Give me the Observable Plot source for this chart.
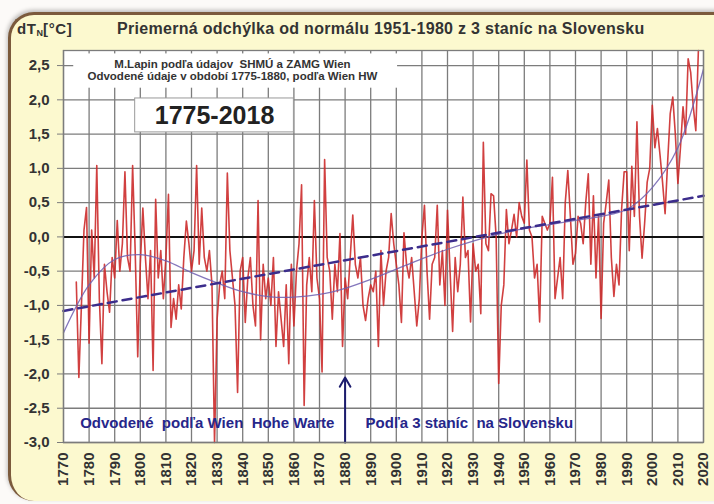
<!DOCTYPE html>
<html>
<head>
<meta charset="utf-8">
<script src="https://cdn.jsdelivr.net/npm/d3@7"></script>
<script src="https://cdn.jsdelivr.net/npm/@observablehq/plot@0.6"></script>
<style>
  html, body { margin: 0; padding: 0; background: #fcfaf8; }
  #wrap { position: relative; width: 714px; height: 504px; overflow: hidden;
          font-family: "Liberation Sans", Arial, sans-serif; }
  #panel { position: absolute; left: 8px; top: 12px; width: 740px; height: 486px;
           background: #fcf9cf; border-top: 3px solid #7b5a3c; border-left: 3px solid #7b5a3c;
           border-radius: 26px; box-shadow: -1px -2px 4px rgba(0,0,0,0.25); }
  #unit { position: absolute; left: 17px; top: 20px; font-weight: bold; font-size: 15px; letter-spacing: 0.6px; color: #333; white-space: nowrap; }
  #unit sub { font-size: 9px; vertical-align: -2px; letter-spacing: 0; }
  #title { position: absolute; left: 117px; top: 20px; font-weight: bold; font-size: 16px; letter-spacing: 0.3px; color: #333; white-space: nowrap; }
  #chart { position: absolute; left: 0; top: 40px; }
</style>
</head>
<body>
<div id="wrap">
  <div id="panel"></div>
  <div id="unit">dT<sub>N</sub>[°C]</div>
  <div id="title">Priemerná odchýlka od normálu 1951-1980 z 3 staníc na Slovensku</div>
  <div id="chart"></div>
</div>
<script>
// Annual mean temperature anomaly (°C) vs. 1951–1980 normal, 1775–2018
const years = d3.range(1775, 2019);
const anomalies = [
  -0.66, -2.05, -1.0, 0.1, 0.43,
  -1.55, 0.1, -0.6, 1.04, -0.9, -1.85, -0.4, -0.8, -1.1, -0.3,
  -0.6, 0.24, -0.5, -0.1, 0.95, -0.3, -0.5, 1.04, -0.2, -1.75,
  -0.4, 0.42, -0.3, -0.9, -0.2, -1.95, 0.55, -0.6, -0.2, -0.9,
  -0.3, 0.62, -1.32, -0.9, -1.2, -0.7, -1.05, -0.3, 0.23, -0.1,
  -0.5, -0.2, 1.04, -0.4, 0.42, -0.3, -0.5, -0.2, -0.7, -3.0,
  -1.2, -0.7, -0.5, -0.9, 0.93, -0.2, -0.6, -1.0, -2.27, -0.5,
  -0.3, -1.25, -0.6, -0.3, -1.0, -1.3, 0.53, -1.5, -0.4, -0.9,
  -0.6, -1.0, -0.3, -1.6, -0.8, -1.2, -1.6, -0.7, -1.85, -0.4,
  -1.3, -0.5, -0.1, 0.76, -2.46, -0.7, -0.3, -0.8, 0.53, -0.6,
  -0.9, -1.97, 1.13, -0.3, -0.5, -1.2, -0.4, -0.8, 0.05, -1.6,
  -0.6, -0.9, -0.3, 0.32, -0.4, -0.6, -0.3, -1.0, -1.22, -0.9,
  -0.7, -0.8, -0.5, -1.6, -0.2, -1.0, -0.5, -0.3, 0.34, -0.1,
  -0.4, -0.7, -1.25, 0.06, -0.4, -0.6, -0.3, -0.8, -1.3, -0.9,
  0.0, 0.46, -0.5, -1.2, -0.4, -0.3, 0.46, -0.7, -0.2, -1.0,
  0.39, -0.5, -1.38, -0.3, -0.8, -0.4, 0.58, -0.3, -0.2, -1.24,
  -0.1, -0.5, -0.4, -1.12, 1.38, -0.1, -0.2, 0.63, 0.6, 0.0,
  -2.14, -1.0, -0.7, 0.4, -0.1, 0.1, 0.33, 0.0, 0.5, 0.3,
  0.2, 1.12, 0.1, 0.0, -0.6, -0.4, -1.24, 0.3, 0.2, 0.1,
  0.2, 0.87, -0.9, -0.6, -0.3, -0.9, 0.5, 0.97, 0.3, -0.4,
  -0.24, 0.3, 0.2, -0.1, 0.5, 0.92, -0.4, 0.6, -0.6, 0.3,
  -1.19, 0.2, 0.5, 0.83, -0.3, -0.87, -0.4, -0.7, 0.4, 0.95,
  0.95, -0.2, 1.03, 0.3, 1.68, 0.3, -0.31, 0.2, 0.8, 1.0,
  1.92, 1.3, 1.58, 1.2, 0.8, 0.34, 1.1, 1.8, 2.04, 1.5,
  0.78, 1.3, 1.9, 1.5, 2.6, 2.4, 1.9, 1.55, 2.72
];

// Smoothed course of the series
const smoothYears = d3.range(1770, 2021, 10);
const smoothValues = [
  -1.40, -0.70, -0.33, -0.26, -0.35, -0.52, -0.67, -0.80, -0.87, -0.88,
  -0.84, -0.75, -0.62, -0.47, -0.32, -0.18, -0.06, 0.04, 0.12, 0.18,
  0.24, 0.30, 0.40, 0.72, 1.30, 2.45
];

// Linear trend end points
const trendYears = [1770, 2020];
const trendValues = [-1.08, 0.60];

// Axis ticks
const xTicks = d3.range(1770, 2021, 10);
const yTicks = [-3.0, -2.5, -2.0, -1.5, -1.0, -0.5, 0.0, 0.5, 1.0, 1.5, 2.0, 2.5];

// Texts
const sourceLines = [
  "M.Lapin podľa údajov  SHMÚ a ZAMG Wien",
  "Odvodené údaje v období 1775-1880, podľa Wien HW"
];
const periodLabel = "1775-2018";
const leftNote = "Odvodené  podľa Wien  Hohe Warte";
const rightNote = "Podľa 3 staníc  na Slovensku";
const splitYear = 1880;

const series = years.map((year, i) => ({year, value: anomalies[i]}));
const smooth = smoothYears.map((year, i) => ({year, value: smoothValues[i]}));
const trend = trendYears.map((year, i) => ({year, value: trendValues[i]}));

const fmt = d => d.toFixed(1).replace(".", ",");
const navy = "#26268a";

const chart = Plot.plot({
  width: 714,
  height: 464,
  marginTop: 10,
  marginBottom: 62,
  marginLeft: 63,
  marginRight: 11,
  style: {background: "transparent", fontFamily: "'Liberation Sans', Arial, sans-serif",
          fontSize: "15px", fontWeight: "bold", color: "#333", overflow: "visible"},
  x: {domain: [1770, 2020]},
  y: {domain: [-3, 2.72]},
  marks: [
    Plot.frame({fill: "white"}),
    Plot.gridX(xTicks, {stroke: "#7c7c7c", strokeOpacity: 1, strokeWidth: 1.3}),
    Plot.gridY(yTicks, {stroke: "#7c7c7c", strokeOpacity: 1, strokeWidth: 1.3}),
    // source note panel
    Plot.rect([0], {x1: 1774, x2: 1900.5, y1: 2.17, y2: 2.67, fill: "white"}),
    Plot.text([sourceLines[0]], {x: 1836, y: 2.52, text: d => d, fontSize: 11.5, fill: "#333"}),
    Plot.text([sourceLines[1]], {x: 1836, y: 2.35, text: d => d, fontSize: 11.5, fill: "#333"}),
    Plot.ruleY([0], {stroke: "#111", strokeWidth: 2}),
    Plot.line(series, {x: "year", y: "value", stroke: "#cc2b2b", strokeWidth: 1.6, strokeOpacity: 0.9}),
    Plot.line(smooth, {x: "year", y: "value", curve: "catmull-rom", stroke: "#6f5fb0", strokeWidth: 1.3, strokeOpacity: 0.85}),
    Plot.line(trend, {x: "year", y: "value", stroke: "#3c2d8c", strokeWidth: 2.5, strokeDasharray: "9,6"}),
    // period label box
    Plot.rect([0], {x1: 1798, x2: 1860, y1: 1.525, y2: 2.02, fill: "white", stroke: "#999", strokeWidth: 1}),
    Plot.text([periodLabel], {x: 1829, y: 1.77, text: d => d, fontSize: 25, fill: "#222"}),
    // source split annotations
    Plot.text([leftNote], {x: 1776.5, y: -2.72, text: d => d, textAnchor: "start", fontSize: 15, fill: navy}),
    Plot.text([rightNote], {x: 1888, y: -2.72, text: d => d, textAnchor: "start", fontSize: 15, fill: navy}),
    Plot.arrow([0], {x1: splitYear, y1: -3.0, x2: splitYear, y2: -2.05, stroke: "#1c1c6e", strokeWidth: 2, headLength: 8}),
    Plot.frame({stroke: "#7c7c7c", strokeWidth: 1.3}),
    Plot.axisY({ticks: yTicks, tickSize: 6, tickPadding: 8, tickFormat: fmt, label: null, stroke: "#7c7c7c", fill: "#333", fontSize: 15}),
    Plot.axisX({ticks: xTicks, tickRotate: -90, tickSize: 0, tickPadding: 10, tickFormat: d => String(d), label: null, fill: "#333", fontSize: 15})
  ]
});
document.getElementById("chart").appendChild(chart);
</script>
</body>
</html>
